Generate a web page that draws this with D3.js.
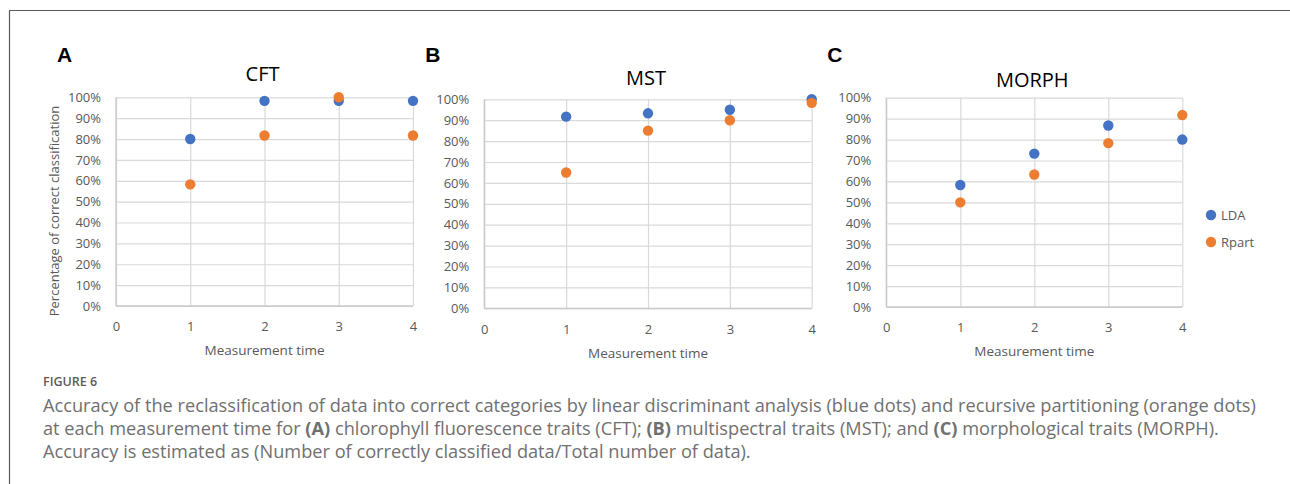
<!DOCTYPE html>
<html>
<head>
<meta charset="utf-8">
<script src="https://cdn.jsdelivr.net/npm/d3@7"></script>
<style>
  body { margin: 0; background: #fff; }
  svg { display: block; }
  .tick text { font-family: "Open Sans", sans-serif; font-size: 13px; fill: #595959; }
</style>
</head>
<body>
<svg id="fig" width="1290" height="484"></svg>
<script>
// data
const times = [1, 2, 3, 4];
const xTicks = [0, 1, 2, 3, 4];
const panelLetters = ["A", "B", "C"];
const panelTitles = ["CFT", "MST", "MORPH"];
const seriesNames = ["LDA", "Rpart"];

const ldaCFT = [0.80, 0.983, 0.983, 0.983];
const rpartCFT = [0.583, 0.817, 1.0, 0.817];
const ldaMST = [0.917, 0.933, 0.95, 1.0];
const rpartMST = [0.65, 0.85, 0.90, 0.983];
const ldaMORPH = [0.583, 0.733, 0.867, 0.80];
const rpartMORPH = [0.50, 0.633, 0.783, 0.917];

const captionHead = "FIGURE 6";
const captionLines = [
  [["Accuracy of the reclassification of data into correct categories by linear discriminant analysis (blue dots) and recursive partitioning (orange dots)", false]],
  [["at each measurement time for ", false], ["(A)", true], [" chlorophyll fluorescence traits (CFT); ", false], ["(B)", true],
   [" multispectral traits (MST); and ", false], ["(C)", true], [" morphological traits (MORPH).", false]],
  [["Accuracy is estimated as (Number of correctly classified data/Total number of data).", false]]
];

const colors = { LDA: "#4472C4", Rpart: "#ED7D31" };

// layout of the three panels
const layout = [
  { left: 116, right: 413, top: 97.3, bottom: 306, titleY: 74, ytitle: true },
  { left: 484.3, right: 811.7, top: 99.3, bottom: 308.3, titleY: 77.7, ytitle: false },
  { left: 886.3, right: 1182.3, top: 97.7, bottom: 307, titleY: 80, ytitle: false }
];
const seriesByPanel = [[ldaCFT, rpartCFT], [ldaMST, rpartMST], [ldaMORPH, rpartMORPH]];

const svg = d3.select("#fig");

// frame
svg.append("path")
  .attr("d", "M9.5,484 V10.5 H1290")
  .attr("fill", "none")
  .attr("stroke", "#5a5a5a")
  .attr("stroke-width", 1.2);

layout.forEach((L, p) => {
  const x = d3.scaleLinear().domain([0, 4]).range([L.left, L.right]);
  const y = d3.scaleLinear().domain([0, 1]).range([L.bottom, L.top]);
  const g = svg.append("g").attr("class", "panel-" + p);

  // horizontal grid
  g.append("g")
    .attr("transform", `translate(${L.left},0)`)
    .call(d3.axisLeft(y).ticks(10).tickSize(-(L.right - L.left)).tickFormat(""))
    .call(a => a.select(".domain").remove())
    .call(a => a.selectAll("line").attr("stroke", "#d9d9d9").attr("stroke-width", 1.2));

  // vertical grid
  g.append("g")
    .attr("transform", `translate(0,${L.bottom})`)
    .call(d3.axisBottom(x).tickValues(xTicks).tickSize(-(L.bottom - L.top)).tickFormat(""))
    .call(a => a.select(".domain").remove())
    .call(a => a.selectAll("line").attr("stroke", "#d9d9d9").attr("stroke-width", 1.2));

  // axis lines
  g.append("line").attr("x1", L.left).attr("x2", L.left).attr("y1", L.top).attr("y2", L.bottom)
    .attr("stroke", "#c8c8c8").attr("stroke-width", 1.3);
  g.append("line").attr("x1", L.left).attr("x2", L.right).attr("y1", L.bottom).attr("y2", L.bottom)
    .attr("stroke", "#c8c8c8").attr("stroke-width", 1.3);

  // tick labels
  g.append("g")
    .attr("transform", `translate(${L.left},0)`)
    .call(d3.axisLeft(y).ticks(10).tickSize(0).tickPadding(15).tickFormat(d3.format(".0%")))
    .call(a => a.select(".domain").remove());
  g.append("g")
    .attr("transform", `translate(0,${L.bottom})`)
    .call(d3.axisBottom(x).tickValues(xTicks).tickSize(0).tickPadding(16).tickFormat(d3.format("d")))
    .call(a => a.select(".domain").remove());

  // points, LDA first so Rpart sits on top
  seriesByPanel[p].forEach((vals, s) => {
    g.append("g").selectAll("circle")
      .data(vals)
      .join("circle")
      .attr("cx", (d, i) => x(times[i]))
      .attr("cy", d => y(d))
      .attr("r", 5.2)
      .attr("fill", colors[seriesNames[s]]);
  });

  // titles
  g.append("text")
    .attr("x", (L.left + L.right) / 2 - 2)
    .attr("y", L.titleY)
    .attr("dy", "0.35em")
    .attr("text-anchor", "middle")
    .attr("font-family", "Open Sans, sans-serif")
    .attr("font-size", 20)
    .attr("fill", "#000")
    .text(panelTitles[p]);

  g.append("text")
    .attr("x", L.left - 59)
    .attr("y", 54)
    .attr("dy", "0.36em")
    .attr("font-family", "Liberation Sans, Arial, sans-serif")
    .attr("font-weight", "bold")
    .attr("font-size", 21)
    .attr("fill", "#000")
    .text(panelLetters[p]);

  g.append("text")
    .attr("x", (L.left + L.right) / 2)
    .attr("y", L.bottom + 44.5)
    .attr("dy", "0.35em")
    .attr("text-anchor", "middle")
    .attr("font-family", "Open Sans, sans-serif")
    .attr("font-size", 13.5)
    .attr("fill", "#595959")
    .text("Measurement time");

  if (L.ytitle) {
    g.append("text")
      .attr("transform", `translate(54,211) rotate(-90)`)
      .attr("dy", "0.35em")
      .attr("text-anchor", "middle")
      .attr("font-family", "Open Sans, sans-serif")
      .attr("font-size", 13)
      .attr("fill", "#595959")
      .text("Percentage of correct classification");
  }
});

// legend
const legend = svg.append("g").attr("transform", "translate(1211,215)");
seriesNames.forEach((name, i) => {
  const row = legend.append("g").attr("transform", `translate(0,${i * 27})`);
  row.append("circle").attr("r", 5.2).attr("fill", colors[name]);
  row.append("text")
    .attr("x", 10)
    .attr("dy", "0.35em")
    .attr("font-family", "Open Sans, sans-serif")
    .attr("font-size", 13)
    .attr("fill", "#595959")
    .text(name);
});

// caption
svg.append("text")
  .attr("x", 43)
  .attr("y", 381)
  .attr("dy", "0.36em")
  .attr("font-family", "Open Sans, sans-serif")
  .attr("font-weight", 600)
  .attr("font-size", 12.5)
  .attr("fill", "#5c5c5c")
  .text(captionHead);

const capY = [405, 428.4, 451.8];
const capTexts = captionLines.map((parts, li) => {
  const t = svg.append("text")
    .attr("x", 43)
    .attr("y", capY[li])
    .attr("dy", "0.36em")
    .attr("font-family", "Open Sans, sans-serif")
    .attr("font-size", 17)
    .attr("fill", "#707070");
  parts.forEach(([str, bold]) => {
    t.append("tspan").attr("font-weight", bold ? 700 : 400).text(str);
  });
  return t;
});
// fit the font size so the first line spans the same width as in the figure
const w0 = capTexts[0].node().getComputedTextLength();
const fs = 17 * 1214 / w0;
capTexts.forEach(t => t.attr("font-size", fs));
</script>
</body>
</html>
